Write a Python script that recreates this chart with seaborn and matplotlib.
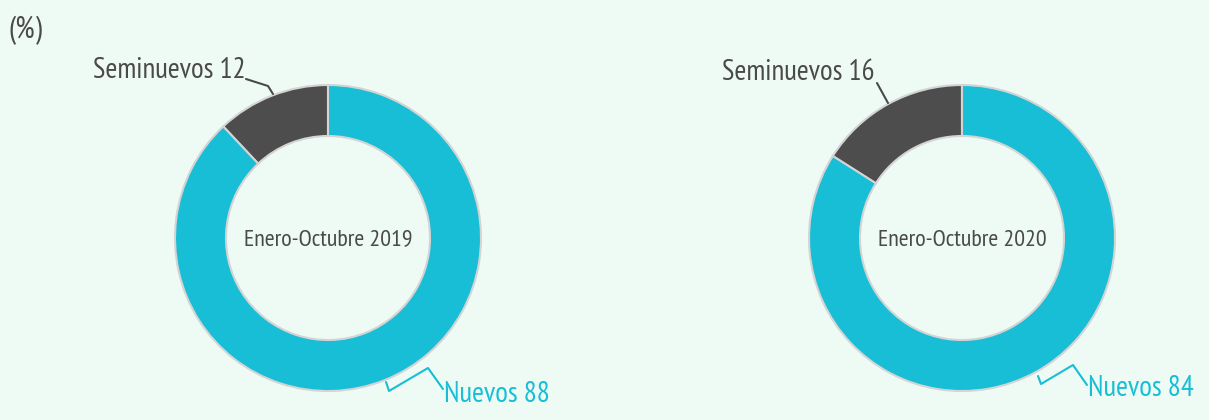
import matplotlib
matplotlib.use("Agg")
import matplotlib.pyplot as plt
import seaborn as sns

# Data
categories = ["Seminuevos", "Nuevos"]
values_2019 = [12, 88]
values_2020 = [16, 84]
periods = ["Enero-Octubre 2019", "Enero-Octubre 2020"]

sns.set_theme(style="white")
plt.rcParams['font.family'] = ['PT Sans Narrow', 'DejaVu Sans']

BG = "#EEFBF5"
CYAN = "#17BED6"
DARK = "#4D4D4D"
GRAY_TXT = "#4A4A4A"

W, H = 1209, 420
fig = plt.figure(figsize=(W / 100, H / 100), dpi=100, facecolor=BG)
ax = fig.add_axes([0, 0, 1, 1])
ax.set_facecolor(BG)
ax.axis("off")

def py(y):
    return H - y

colors = [DARK, CYAN]
for vals, cx, period in [(values_2019, 328, periods[0]), (values_2020, 962, periods[1])]:
    ax.pie(vals, colors=colors, startangle=90, counterclock=True,
           center=(cx, py(238)), radius=153,
           wedgeprops=dict(width=51, edgecolor="#D4D4D4", linewidth=1.5))
    ax.text(cx, py(240), period, ha="center", va="center", fontsize=17.3, color=GRAY_TXT)

ax.set_xlim(0, W)
ax.set_ylim(0, H)
ax.set_aspect("equal")

LS = 20.8
# Labels and leader lines - chart 1
ax.text(93, py(70), f"{categories[0]} {values_2019[0]}", ha="left", va="center",
        fontsize=LS, color=GRAY_TXT)
ax.plot([246, 268, 273], [py(79), py(86), py(94)], color=GRAY_TXT, lw=1.5)
ax.text(444, py(395), f"{categories[1]} {values_2019[1]}", ha="left", va="center",
        fontsize=LS, color=CYAN)
ax.plot([386, 389, 428, 443], [py(382), py(391), py(368), py(389)], color=CYAN, lw=1.5)

# Labels and leader lines - chart 2
ax.text(722, py(73), f"{categories[0]} {values_2020[0]}", ha="left", va="center",
        fontsize=LS, color=GRAY_TXT)
ax.plot([877, 888], [py(83), py(103)], color=GRAY_TXT, lw=1.5)
ax.text(1088, py(388), f"{categories[1]} {values_2020[1]}", ha="left", va="center",
        fontsize=LS, color=CYAN)
ax.plot([1038, 1041, 1073, 1087], [py(376), py(384), py(365), py(385)], color=CYAN, lw=1.5)

ax.text(8, py(30), "(%)", ha="left", va="center", fontsize=22, color=GRAY_TXT)

fig.savefig("out.png", dpi=100, facecolor=BG)
